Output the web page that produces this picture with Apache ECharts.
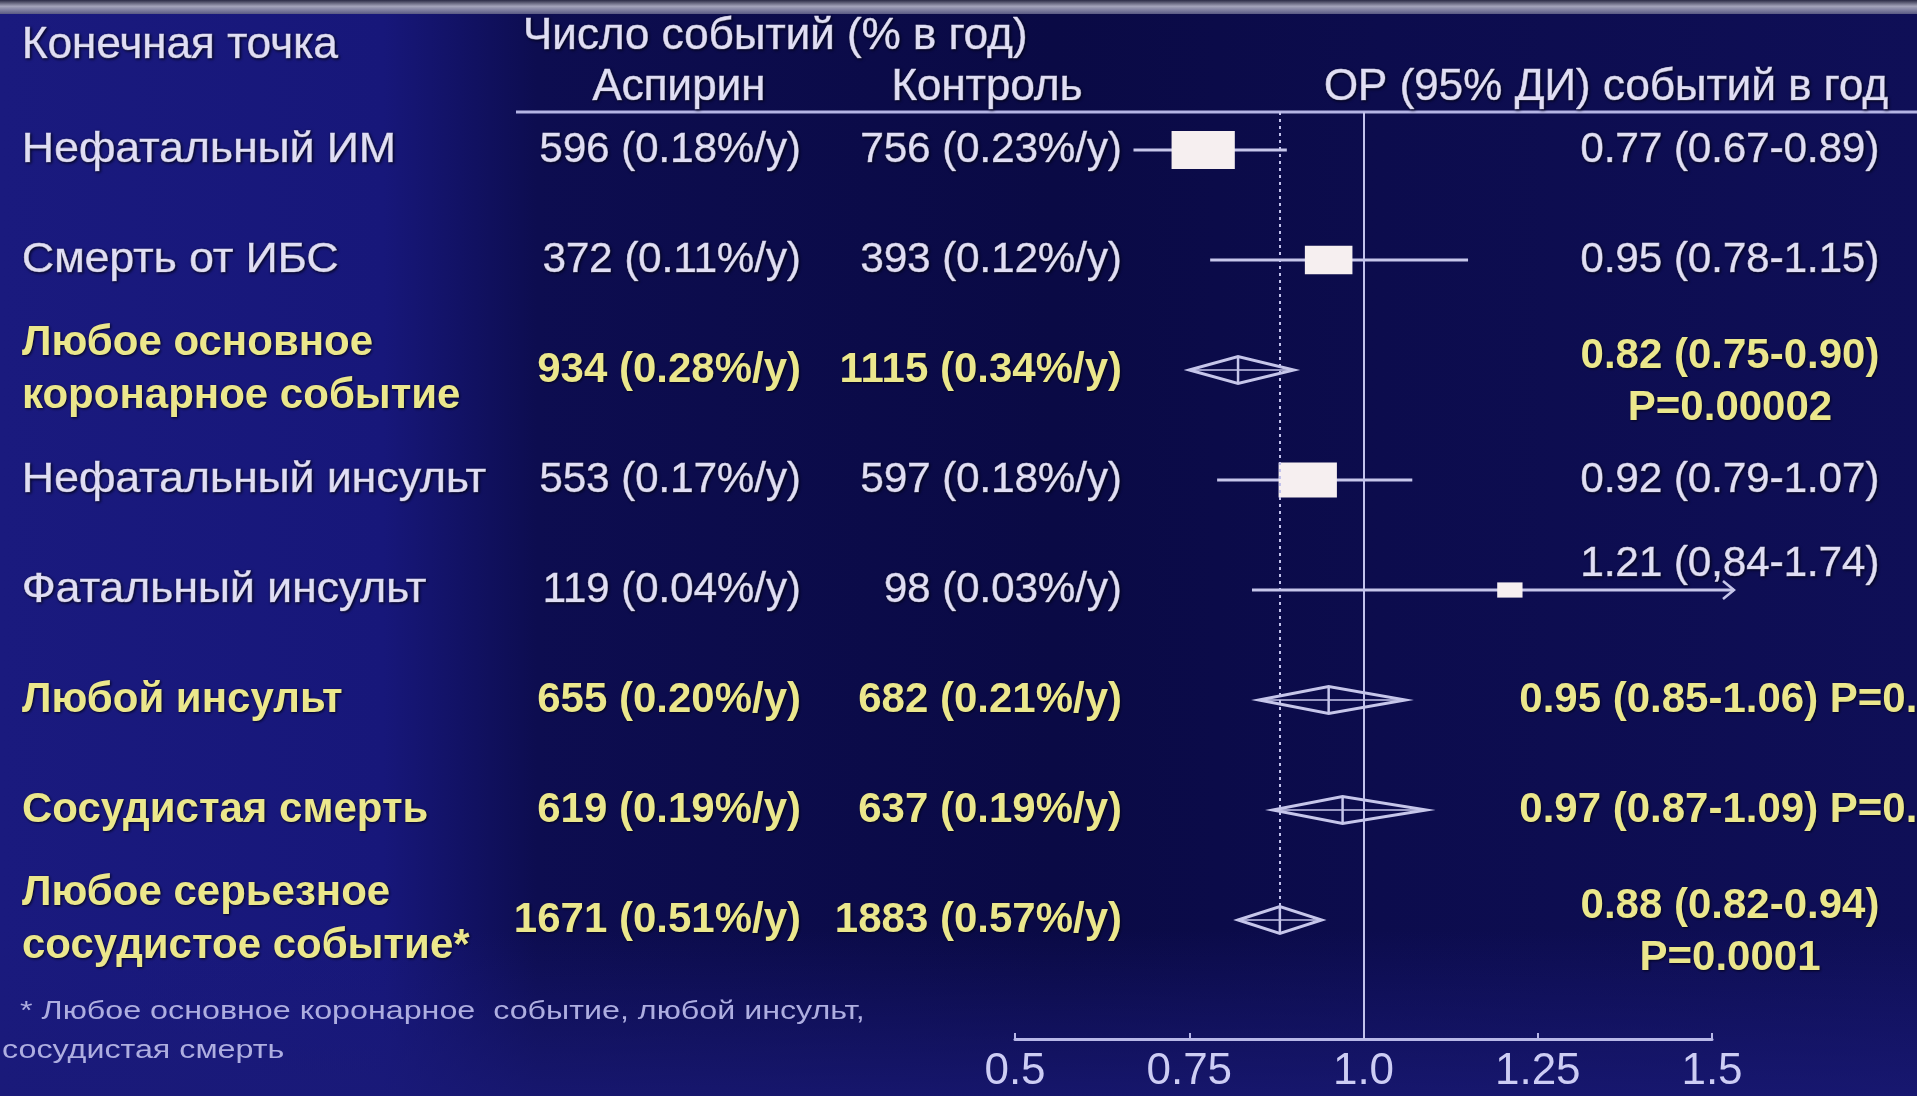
<!DOCTYPE html>
<html><head><meta charset="utf-8">
<script src="https://cdn.jsdelivr.net/npm/echarts@6/dist/echarts.min.js"></script>
<style>html,body{margin:0;padding:0;background:#0e0e55;}#chart{width:1917px;height:1096px;}</style>
</head><body><div id="chart"></div>
<script>
// ---------- DATA ----------
const endpoints = ['Нефатальный ИМ', 'Смерть от ИБС', 'Любое основное\nкоронарное событие',
  'Нефатальный инсульт', 'Фатальный инсульт', 'Любой инсульт', 'Сосудистая смерть',
  'Любое серьезное\nсосудистое событие*'];
const aspirinEvents = [596, 372, 934, 553, 119, 655, 619, 1671];
const aspirinRate = [0.18, 0.11, 0.28, 0.17, 0.04, 0.20, 0.19, 0.51];
const controlEvents = [756, 393, 1115, 597, 98, 682, 637, 1883];
const controlRate = [0.23, 0.12, 0.34, 0.18, 0.03, 0.21, 0.19, 0.57];
const hr = [0.77, 0.95, 0.82, 0.92, 1.21, 0.95, 0.97, 0.88];
const ciLow = [0.67, 0.78, 0.75, 0.79, 0.84, 0.85, 0.87, 0.82];
const ciHigh = [0.89, 1.15, 0.90, 1.07, 1.74, 1.06, 1.09, 0.94];
const hrLabels = ['0.77 (0.67-0.89)', '0.95 (0.78-1.15)', '0.82 (0.75-0.90)', '0.92 (0.79-1.07)',
  '1.21 (0,84-1.74)', '0.95 (0.85-1.06) P=0.4', '0.97 (0.87-1.09) P=0.7', '0.88 (0.82-0.94)'];
const pLabels = [null, null, 'P=0.00002', null, null, null, null, 'P=0.0001'];
const isSummary = [false, false, true, false, false, true, true, true];
const xTickLabels = ['0.5', '0.75', '1.0', '1.25', '1.5'];
const headerLabels = ['Конечная точка', 'Число событий (% в год)', 'Аспирин', 'Контроль', 'ОР (95% ДИ) событий в год'];
const footnoteLines = ['* Любое основное коронарное  событие, любой инсульт,', 'сосудистая смерть'];

// ---------- LAYOUT / STYLE ----------
const X_MIN = 0.5, X_MAX = 1.5, X_INT = 0.25;
const GRID_LEFT = 1015, GRID_RIGHT_X = 1712, GRID_TOP = 112, GRID_BOTTOM_Y = 1039;
const FIRST_ROW_Y = 150, ROW_STEP = 110;
const Y_MIN = -(FIRST_ROW_Y - GRID_TOP) / ROW_STEP;
const Y_MAX = (GRID_BOTTOM_Y - FIRST_ROW_Y) / ROW_STEP;
const COL_LABEL_X = 22, COL_ASP_RIGHT = 801, COL_CTRL_RIGHT = 1122, COL_HR_CENTER = 1730;
const WHITE = '#e0def4', YELLOW = '#ebe78c', LINE = '#c6c6ea', BOX = '#f6eff0';
const FONT = '"Liberation Sans", Arial, Helvetica, sans-serif';
const BOX_K = 1.72, BOX_RATIO = 0.6, DIAMOND_H = 27, ARROW_OVER = 22, LIFT_TRUNC = 26;
const SHADOW = {textShadowColor: 'rgba(0,0,20,0.9)', textShadowBlur: 3, textShadowOffsetX: 1, textShadowOffsetY: 1};

function txt(x, y, text, opts) {
  const col = opts.color || WHITE;
  return {
    type: 'text', x: x, y: y, scaleX: opts.scaleX || 1,
    style: Object.assign({
      text: text, fill: col, stroke: col, lineWidth: opts.bold ? 0 : 0.7,
      fontSize: opts.size || 42, fontFamily: FONT, fontWeight: opts.bold ? 'bold' : 'normal',
      align: opts.align || 'left', verticalAlign: 'middle', lineHeight: opts.lineHeight || 52
    }, SHADOW)
  };
}

function renderForest(params, api) {
  const i = params.dataIndex;
  const c = api.coord([hr[i], i]);
  const xc = c[0], y = c[1];
  const xl = api.coord([ciLow[i], i])[0];
  const trunc = ciHigh[i] > X_MAX;
  const xh = trunc ? api.coord([X_MAX, i])[0] + ARROW_OVER : api.coord([ciHigh[i], i])[0];
  const children = [];
  if (isSummary[i]) {
    const h = DIAMOND_H / 2;
    children.push({type: 'line', shape: {x1: xl, y1: y, x2: xh, y2: y}, style: {stroke: LINE, lineWidth: 1.5}});
    children.push({type: 'polygon', shape: {points: [[xl, y], [xc, y - h], [xh, y], [xc, y + h]]},
      style: {fill: 'none', stroke: LINE, lineWidth: 3}});
    children.push({type: 'line', shape: {x1: xc, y1: y - h, x2: xc, y2: y + h}, style: {stroke: LINE, lineWidth: 2.5}});
  } else {
    children.push({type: 'line', shape: {x1: xl, y1: y, x2: xh, y2: y}, style: {stroke: LINE, lineWidth: 3}});
    if (trunc) {
      children.push({type: 'polyline', shape: {points: [[xh - 11, y - 9], [xh, y], [xh - 11, y + 9]]},
        style: {stroke: LINE, lineWidth: 2.5, fill: 'none'}});
    }
    const w = BOX_K * Math.sqrt(aspirinEvents[i] + controlEvents[i]);
    const hh = w * BOX_RATIO;
    children.push({type: 'rect', shape: {x: xc - w / 2, y: y - hh / 2, width: w, height: hh}, style: {fill: BOX}});
  }
  return {type: 'group', children: children};
}

function renderTable(params, api) {
  const i = params.dataIndex;
  const y = api.coord([X_MIN, i])[1];
  const sum = isSummary[i];
  const col = sum ? YELLOW : WHITE;
  const ch = [];
  ch.push(txt(COL_LABEL_X, y, endpoints[i], {color: col, bold: sum, scaleX: sum ? 1.0 : 1.06, lineHeight: 53}));
  ch.push(txt(COL_ASP_RIGHT, y, aspirinEvents[i] + ' (' + aspirinRate[i].toFixed(2) + '%/y)', {color: col, bold: sum, align: 'right'}));
  ch.push(txt(COL_CTRL_RIGHT, y, controlEvents[i] + ' (' + controlRate[i].toFixed(2) + '%/y)', {color: col, bold: sum, align: 'right'}));
  if (pLabels[i]) {
    ch.push(txt(COL_HR_CENTER, y - 14, hrLabels[i], {color: col, bold: sum, align: 'center'}));
    ch.push(txt(COL_HR_CENTER, y + 38, pLabels[i], {color: col, bold: sum, align: 'center'}));
  } else {
    const lift = ciHigh[i] > X_MAX ? LIFT_TRUNC : 0;
    ch.push(txt(COL_HR_CENTER, y - lift, hrLabels[i], {color: col, bold: sum, align: 'center'}));
  }
  return {type: 'group', children: ch};
}

const rows = hr.map((v, i) => [v, i]);

const chart = echarts.init(document.getElementById('chart'), null, {renderer: 'canvas'});
chart.setOption({
  animation: false,
  backgroundColor: {type: 'linear', x: 0, y: 0, x2: 1, y2: 0, colorStops: [
    {offset: 0, color: '#1a1a7e'}, {offset: 0.2, color: '#17177a'}, {offset: 0.28, color: '#0d0d50'},
    {offset: 0.55, color: '#0a0a45'}, {offset: 0.72, color: '#0c0c4d'}, {offset: 1, color: '#0f0f57'}]},
  grid: {left: GRID_LEFT, right: 1917 - GRID_RIGHT_X, top: GRID_TOP, bottom: 1096 - GRID_BOTTOM_Y,
    containLabel: false, outerBoundsMode: 'none'},
  xAxis: {
    type: 'value', min: X_MIN, max: X_MAX, interval: X_INT, position: 'bottom',
    axisLine: {show: true, onZero: false, lineStyle: {color: '#b8b8e8', width: 3}},
    axisTick: {show: true, inside: true, length: 6, lineStyle: {color: '#b8b8e8', width: 2}},
    splitLine: {show: false},
    axisLabel: {color: '#cdcdf4', fontSize: 44, fontFamily: FONT, margin: 11,
      formatter: v => xTickLabels[Math.round((v - X_MIN) / X_INT)]}
  },
  yAxis: {type: 'value', inverse: true, min: Y_MIN, max: Y_MAX, show: false, splitLine: {show: false},
    axisLine: {onZero: false}},
  graphic: [
    {type: 'rect', z: -5, shape: {x: 0, y: 930, width: 1917, height: 166},
      style: {fill: {type: 'linear', x: 0, y: 0, x2: 0, y2: 1, colorStops: [
        {offset: 0, color: 'rgba(26,26,120,0)'}, {offset: 1, color: 'rgba(26,26,120,0.75)'}]}}},
    {type: 'rect', z: 5, shape: {x: 0, y: 0, width: 1917, height: 14},
      style: {fill: {type: 'linear', x: 0, y: 0, x2: 0, y2: 1, colorStops: [
        {offset: 0, color: '#2a2a44'}, {offset: 0.45, color: '#a4a4ba'}, {offset: 1, color: '#5a5a84'}]}}},
    {type: 'line', z: 5, shape: {x1: 516, y1: 112, x2: 1917, y2: 112}, style: {stroke: '#b4b4e4', lineWidth: 3}},
    {type: 'text', z: 5, x: 22, y: 46, style: Object.assign({text: headerLabels[0], fill: WHITE, stroke: WHITE, lineWidth: 0.7, fontSize: 44, fontFamily: FONT, align: 'left', verticalAlign: 'middle'}, SHADOW)},
    {type: 'text', z: 5, x: 523, y: 37, style: Object.assign({text: headerLabels[1], fill: WHITE, stroke: WHITE, lineWidth: 0.7, fontSize: 44, fontFamily: FONT, align: 'left', verticalAlign: 'middle'}, SHADOW)},
    {type: 'text', z: 5, x: 679, y: 88, style: Object.assign({text: headerLabels[2], fill: WHITE, stroke: WHITE, lineWidth: 0.7, fontSize: 44, fontFamily: FONT, align: 'center', verticalAlign: 'middle'}, SHADOW)},
    {type: 'text', z: 5, x: 987, y: 88, style: Object.assign({text: headerLabels[3], fill: WHITE, stroke: WHITE, lineWidth: 0.7, fontSize: 44, fontFamily: FONT, align: 'center', verticalAlign: 'middle'}, SHADOW)},
    {type: 'text', z: 5, x: 1606, y: 88, style: Object.assign({text: headerLabels[4], fill: WHITE, stroke: WHITE, lineWidth: 0.7, fontSize: 44, fontFamily: FONT, align: 'center', verticalAlign: 'middle'}, SHADOW)},
    {type: 'text', z: 5, x: 20, y: 1012, scaleX: 1.24, style: {text: footnoteLines[0], fill: '#aeaee0', fontSize: 26, fontFamily: FONT, align: 'left', verticalAlign: 'middle'}},
    {type: 'text', z: 5, x: 2, y: 1051, scaleX: 1.24, style: {text: footnoteLines[1], fill: '#aeaee0', fontSize: 26, fontFamily: FONT, align: 'left', verticalAlign: 'middle'}}
  ],
  series: [
    {
      type: 'custom', name: 'forest', clip: false, data: rows, renderItem: renderForest, z: 3,
      encode: {x: 0, y: 1},
      markLine: {
        silent: true, symbol: ['none', 'none'], label: {show: false},
        data: [
          {xAxis: 1, lineStyle: {type: 'solid', width: 2, color: '#c2c2ec'}},
          [{coord: [hr[hr.length - 1], Y_MIN], lineStyle: {type: [3, 4], width: 2, color: '#c2c2ec'}},
           {coord: [hr[hr.length - 1], hr.length - 1]}]
        ]
      }
    },
    {type: 'custom', name: 'table', clip: false, data: rows, renderItem: renderTable, z: 4, encode: {x: 0, y: 1}}
  ]
});
</script></body></html>
